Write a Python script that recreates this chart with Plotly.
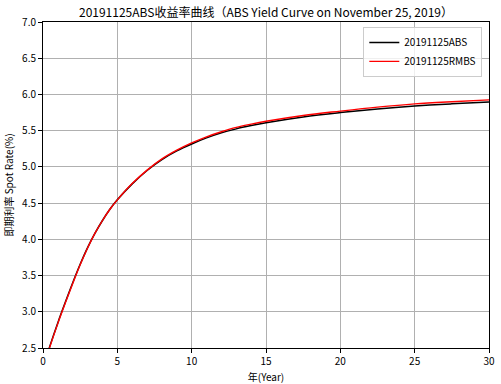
import plotly.graph_objects as go

years = [0, 0.5, 1, 1.5, 2, 2.5, 3, 3.5, 4, 4.5, 5, 6, 7, 8, 9, 10, 11, 12, 13, 14, 15, 17.5, 20, 22.5, 25, 27.5, 30]
abs_rates = [2.22, 2.55, 2.85, 3.13, 3.40, 3.655, 3.885, 4.085, 4.26, 4.415, 4.545, 4.765, 4.95, 5.10, 5.22, 5.316,
             5.40, 5.47, 5.525, 5.57, 5.61, 5.69, 5.75, 5.80, 5.84, 5.87, 5.895]
rmbs_rates = [2.21, 2.54, 2.84, 3.12, 3.39, 3.65, 3.88, 4.085, 4.26, 4.415, 4.545, 4.77, 4.955, 5.11, 5.23, 5.33,
              5.415, 5.485, 5.545, 5.59, 5.63, 5.71, 5.77, 5.825, 5.87, 5.90, 5.925]

x_ticks = [0, 5, 10, 15, 20, 25, 30]
y_ticks = [2.5, 3.0, 3.5, 4.0, 4.5, 5.0, 5.5, 6.0, 6.5, 7.0]

FONT = "Noto Sans CJK SC, DejaVu Sans, sans-serif"

fig = go.Figure()
fig.add_trace(go.Scatter(x=years, y=abs_rates, mode="lines", name="20191125ABS",
                         line=dict(color="black", width=1.5, shape="spline", smoothing=1.0)))
fig.add_trace(go.Scatter(x=years, y=rmbs_rates, mode="lines", name="20191125RMBS",
                         line=dict(color="#ff0000", width=1.4, shape="spline", smoothing=1.0)))

axis_common = dict(showline=True, mirror=True, linecolor="black", linewidth=1,
                   ticks="outside", ticklen=4, tickcolor="black", automargin=False,
                   showgrid=True, gridcolor="rgb(176,176,176)", gridwidth=1, griddash="solid",
                   zeroline=False, tickfont=dict(size=10, color="black", family=FONT))

fig.update_xaxes(range=[0, 30], tickmode="array", tickvals=x_ticks, ticktext=[str(v) for v in x_ticks],
                 title=dict(text="年(Year)", font=dict(size=10, color="black", family=FONT)),
                 **axis_common)
fig.update_yaxes(range=[2.5, 7.0], tickmode="array", tickvals=y_ticks, ticktext=[f"{v:.1f}" for v in y_ticks],
                 title=dict(text="即期利率 Spot Rate(%)", font=dict(size=10, color="black", family=FONT)),
                 **axis_common)

fig.update_layout(
    template="none",
    width=501, height=384,
    margin=dict(l=43, r=12, t=22, b=36),
    paper_bgcolor="white", plot_bgcolor="white",
    title=dict(text="20191125ABS收益率曲线（ABS Yield Curve on November 25, 2019）",
               x=(43 + 223) / 501, xanchor="center", y=1 - 13 / 384, yanchor="middle",
               font=dict(size=12, color="black", family=FONT)),
    legend=dict(x=0.985, xanchor="right", y=0.985, yanchor="top",
                bgcolor="rgba(255,255,255,0.8)", bordercolor="#cccccc", borderwidth=1,
                font=dict(size=10, color="black", family=FONT),
                itemwidth=30, tracegroupgap=0),
    showlegend=True,
)

# remove the page's default 8px body margin so the figure fills the window exactly
fig.write_html("out.html", config={"displayModeBar": False},
               post_script="document.body.style.margin='0';")
